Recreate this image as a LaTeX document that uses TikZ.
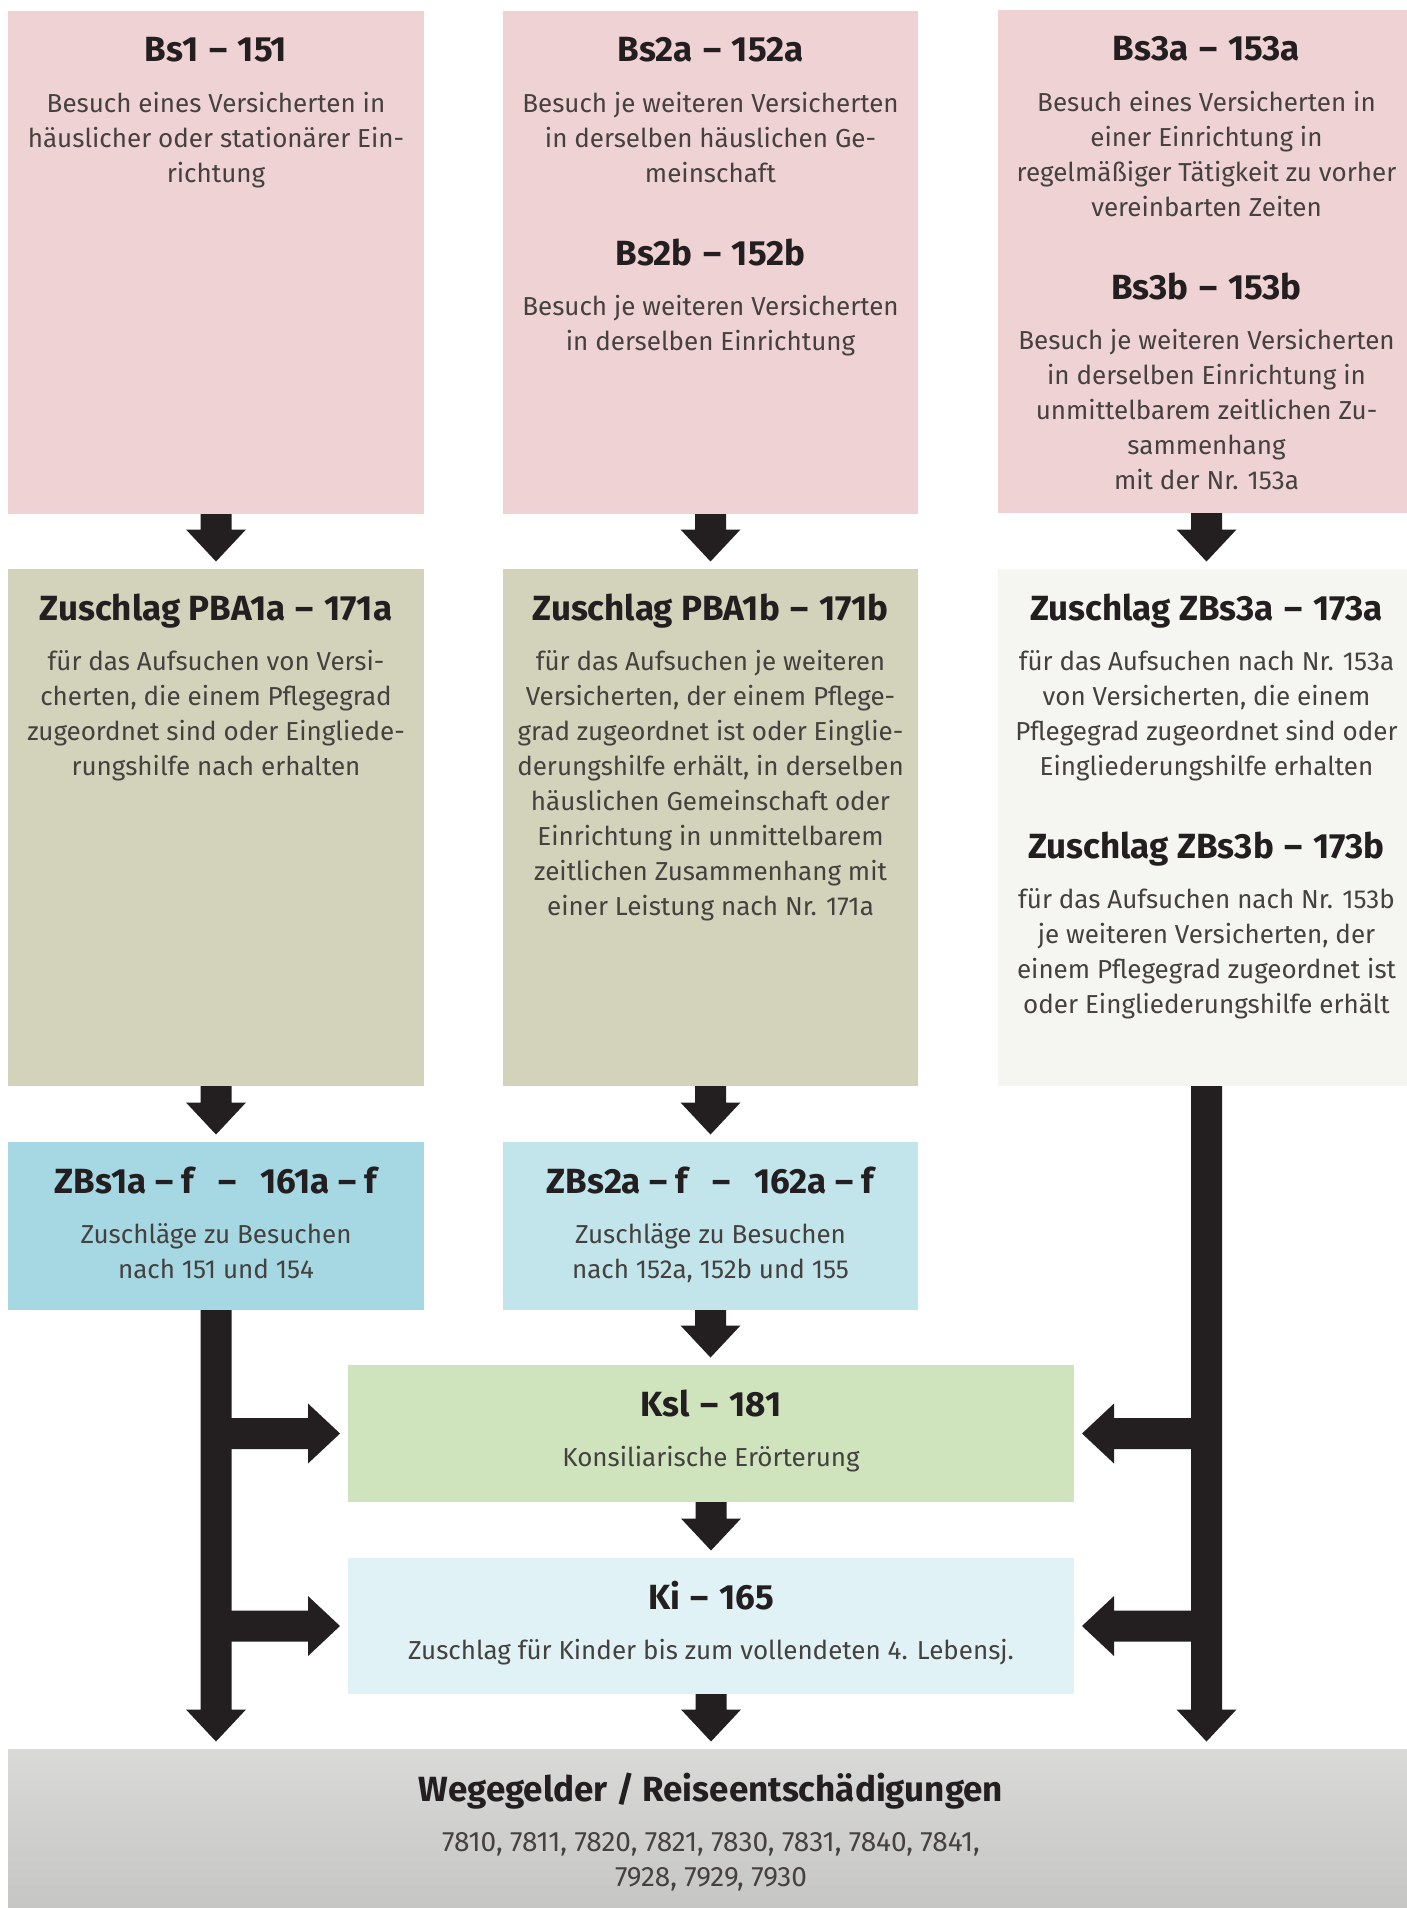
\documentclass[tikz,border=0pt]{standalone}
\usepackage{fontspec}
\setmainfont{Fira Sans}
\usetikzlibrary{calc}
\definecolor{cpink}{HTML}{EFD2D4}
\definecolor{ctan}{HTML}{D3D2BB}
\definecolor{clight}{HTML}{F5F6F1}
\definecolor{cblueA}{HTML}{A5D8E3}
\definecolor{cblueB}{HTML}{C2E5EB}
\definecolor{cgreen}{HTML}{CFE3BD}
\definecolor{cki}{HTML}{E0F2F5}
\definecolor{cgrayT}{HTML}{D9DAD8}
\definecolor{cgrayB}{HTML}{C5C6C4}
\definecolor{carrow}{HTML}{231F20}
\definecolor{ctitle}{HTML}{231F20}
\definecolor{cbody}{HTML}{45413F}
\newcommand\txtlines[1]{\begin{tabular}[t]{@{}c@{}}#1\end{tabular}}
\newcommand\dsh{\hspace{0.3em}–\hspace{0.3em}}
\newcommand\dnarrow[2]{%
  \coordinate (tmpS) at (#1);
  \coordinate (tmpT) at ($(#1 |- #2.north)+(0,7.5)$);
  \fill[arrowc] ($(tmpS)+(-15.5,0)$) -- ($(tmpT)+(-15.5,32)$) -- ($(tmpT)+(-30,32)$) -- (tmpT)
    -- ($(tmpT)+(30,32)$) -- ($(tmpT)+(15.5,32)$) -- ($(tmpS)+(15.5,0)$) -- cycle;}
\newcommand\sidearrow[3]{%
  \coordinate (tmpT) at ($(#2)+({-8*(#3)},0)$);
  \coordinate (tmpS) at (#1 |- #2);
  \fill[arrowc] ($(tmpS)+(0,15.5)$) -- ($(tmpT)+({-32*(#3)},15.5)$) -- ($(tmpT)+({-32*(#3)},30)$) -- (tmpT)
    -- ($(tmpT)+({-32*(#3)},-30)$) -- ($(tmpT)+({-32*(#3)},-15.5)$) -- ($(tmpS)+(0,-15.5)$) -- cycle;}
\tikzset{
  box/.style={rectangle, draw=none, inner sep=0pt, outer sep=0pt},
  ttl/.style={inner sep=0pt, outer sep=0pt, anchor=base, text=ctitle, font=\fontsize{35}{40}\selectfont\bfseries},
  bdy/.style={inner sep=0pt, outer sep=0pt, anchor=base, text=cbody, font=\fontsize{26}{34.9}\selectfont},
  arrowc/.style={fill=carrow},
}
\begin{document}
\begin{tikzpicture}[x=1pt,y=1pt]
\useasboundingbox (0,0) rectangle (1407,-1908);
\clip (0,0) rectangle (1407,-1908);
% boxes
\node[box, fill=cpink, minimum width=416pt, minimum height=503pt] (b1) at (216,-262.5) {};
\node[box, fill=cpink, minimum width=415pt, minimum height=503pt] (b2) at (710.5,-262.5) {};
\node[box, fill=cpink, minimum width=417pt, minimum height=503pt] (b3) at (1206.5,-261.5) {};
\node[box, fill=ctan, minimum width=416pt, minimum height=517pt] (z1) at (216,-827.5) {};
\node[box, fill=ctan, minimum width=415pt, minimum height=517pt] (z2) at (710.5,-827.5) {};
\node[box, fill=clight, minimum width=417pt, minimum height=517pt] (z3) at (1206.5,-827.5) {};
\node[box, fill=cblueA, minimum width=416pt, minimum height=168pt] (c1) at (216,-1226) {};
\node[box, fill=cblueB, minimum width=415pt, minimum height=168pt] (c2) at (710.5,-1226) {};
\node[box, fill=cgreen, minimum width=726pt, minimum height=137pt] (ksl) at (711,-1433.5) {};
\node[box, fill=cki, minimum width=726pt, minimum height=136pt] (ki) at (711,-1626) {};
\node[box, top color=cgrayT, bottom color=cgrayB, minimum width=1407pt, minimum height=166pt] (w) at (711.5,-1832) {};
% texts column 1
\node[ttl] (b1t) at ($(b1.north)+(0,-51)$) {Bs1\dsh 151};
\node[bdy] (b1b) at ($(b1t.base)+(0,-50.7)$) {\txtlines{Besuch eines Versicherten in\\häuslicher oder stationärer Ein-\\richtung}};
\node[ttl] (z1t) at ($(z1.north)+(0,-51)$) {Zuschlag PBA1a\dsh 171a};
\node[bdy] (z1b) at ($(z1t.base)+(0,-50.7)$) {\txtlines{für das Aufsuchen von Versi-\\cherten, die einem Pflegegrad\\zugeordnet sind oder Eingliede-\\rungshilfe nach erhalten}};
\node[ttl] (c1t) at ($(c1.north)+(0,-51)$) {ZBs1a – f\hspace{0.45em} – \hspace{0.45em}161a – f};
\node[bdy] (c1b) at ($(c1t.base)+(0,-50.7)$) {\txtlines{Zuschläge zu Besuchen\\nach 151 und 154}};
% texts column 2
\node[ttl] (b2t) at ($(b2.north)+(0,-51)$) {Bs2a\dsh 152a};
\node[bdy] (b2b) at ($(b2t.base)+(0,-50.7)$) {\txtlines{Besuch je weiteren Versicherten\\in derselben häuslichen Ge-\\meinschaft}};
\node[ttl] (b2u) at ($(b2b.base)+(0,-152.4)$) {Bs2b\dsh 152b};
\node[bdy] (b2c) at ($(b2u.base)+(0,-50.7)$) {\txtlines{Besuch je weiteren Versicherten\\in derselben Einrichtung}};
\node[ttl] (z2t) at ($(z2.north)+(0,-51)$) {Zuschlag PBA1b\dsh 171b};
\node[bdy] (z2b) at ($(z2t.base)+(0,-50.7)$) {\txtlines{für das Aufsuchen je weiteren\\Versicherten, der einem Pflege-\\grad zugeordnet ist oder Einglie-\\derungshilfe erhält, in derselben\\häuslichen Gemeinschaft oder\\Einrichtung in unmittelbarem\\zeitlichen Zusammenhang mit\\einer Leistung nach Nr. 171a}};
\node[ttl] (c2t) at ($(c2.north)+(0,-51)$) {ZBs2a – f\hspace{0.45em} – \hspace{0.45em}162a – f};
\node[bdy] (c2b) at ($(c2t.base)+(0,-50.7)$) {\txtlines{Zuschläge zu Besuchen\\nach 152a, 152b und 155}};
% texts column 3
\node[ttl] (b3t) at ($(b3.north)+(0,-51)$) {Bs3a\dsh 153a};
\node[bdy] (b3b) at ($(b3t.base)+(0,-50.7)$) {\txtlines{Besuch eines Versicherten in\\einer Einrichtung in\\regelmäßiger Tätigkeit zu vorher\\vereinbarten Zeiten}};
\node[ttl] (b3u) at ($(b3b.base)+(0,-187.3)$) {Bs3b\dsh 153b};
\node[bdy] (b3c) at ($(b3u.base)+(0,-50.7)$) {\txtlines{Besuch je weiteren Versicherten\\in derselben Einrichtung in\\unmittelbarem zeitlichen Zu-\\sammenhang\\mit der Nr. 153a}};
\node[ttl] (z3t) at ($(z3.north)+(0,-51)$) {Zuschlag ZBs3a\dsh 173a};
\node[bdy] (z3b) at ($(z3t.base)+(0,-50.7)$) {\txtlines{für das Aufsuchen nach Nr. 153a\\von Versicherten, die einem\\Pflegegrad zugeordnet sind oder\\Eingliederungshilfe erhalten}};
\node[ttl] (z3u) at ($(z3b.base)+(0,-187.3)$) {Zuschlag ZBs3b\dsh 173b};
\node[bdy] (z3c) at ($(z3u.base)+(0,-50.7)$) {\txtlines{für das Aufsuchen nach Nr. 153b\\je weiteren Versicherten, der\\einem Pflegegrad zugeordnet ist\\oder Eingliederungshilfe erhält}};
% center texts
\node[ttl] (kslt) at ($(ksl.north)+(0,-51)$) {Ksl\dsh 181};
\node[bdy] (kslb) at ($(kslt.base)+(0,-50.7)$) {Konsiliarische Erörterung};
\node[ttl] (kit) at ($(ki.north)+(0,-51)$) {Ki\dsh 165};
\node[bdy] (kib) at ($(kit.base)+(0,-50.7)$) {Zuschlag für Kinder bis zum vollendeten 4. Lebensj.};
\node[ttl] (wt) at (711,-1801.5) {Wegegelder / Reiseentschädigungen};
\node[bdy, font=\fontsize{28}{34.9}\selectfont] (wb) at ($(wt.base)+(0,-50.2)$) {\txtlines{7810, 7811, 7820, 7821, 7830, 7831, 7840, 7841,\\7928, 7929, 7930}};
% arrows
\dnarrow{b1.south}{z1}
\dnarrow{b2.south}{z2}
\dnarrow{b3.south}{z3}
\dnarrow{z1.south}{c1}
\dnarrow{z2.south}{c2}
\dnarrow{c2.south}{ksl}
\dnarrow{ksl.south}{ki}
\dnarrow{ki.south}{w}
\dnarrow{c1.south}{w}
\dnarrow{z3.south}{w}
\sidearrow{c1.south}{ksl.west}{1}
\sidearrow{c1.south}{ki.west}{1}
\sidearrow{z3.south}{ksl.east}{-1}
\sidearrow{z3.south}{ki.east}{-1}
\end{tikzpicture}
\end{document}
